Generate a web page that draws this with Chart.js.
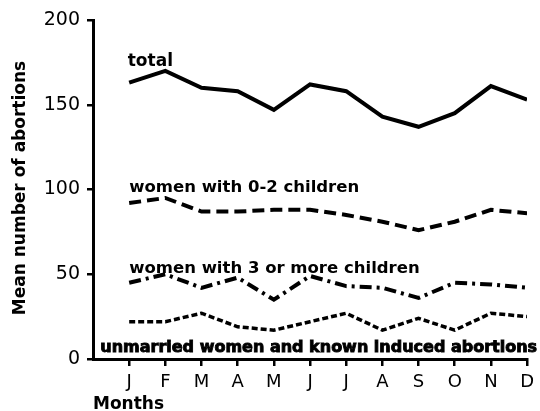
<!DOCTYPE html>
<html><head><meta charset="utf-8">
<script src="https://cdn.jsdelivr.net/npm/chart.js@4/dist/chart.umd.min.js"></script>
<style>html,body{margin:0;padding:0;background:#fff}</style>
</head><body>
<canvas id="c" width="540" height="411" style="width:540px;height:411px;display:block"></canvas>
<script>
const months = ['J','F','M','A','M','J','J','A','S','O','N','D'];
const total = [163,170,160,158,147,162,158,143,137,145,161,153];
const women02 = [92,95,87,87,88,88,85,81,76,81,88,86];
const women3plus = [45,50,42,48,35,49,43,42,36,45,44,42];
const unmarried = [22,22,27,19,17,22,27,17,24,17,27,25];
const yTicks = [0,50,100,150,200];

const FONT = 'DejaVu Sans';
const pts = arr => arr.map((v,i)=>({x:i+1,y:v}));

const labelPlugin = {
  id:'labels',
  afterDraw(chart){
    const {ctx, scales:{x,y}} = chart;
    ctx.save();
    ctx.fillStyle='#000';
    ctx.strokeStyle='#000';
    ctx.textBaseline='alphabetic';
    ctx.textAlign='left';
    ctx.font = `bold 17px "${FONT}"`;
    ctx.fillText('total', x.getPixelForValue(0.96), y.getPixelForValue(173));
    ctx.font = `bold 16.5px "${FONT}"`;
    ctx.fillText('women with 0-2 children', x.getPixelForValue(1.0), y.getPixelForValue(98.5));
    ctx.fillText('women with 3 or more children', x.getPixelForValue(1.0), y.getPixelForValue(51));
    ctx.font = `bold 16px "${FONT}"`;
    const ux = x.getPixelForValue(0.2), uy = y.getPixelForValue(4);
    ctx.lineWidth = 0.9;
    ctx.fillText('unmarried women and known induced abortions', ux, uy);
    ctx.strokeText('unmarried women and known induced abortions', ux, uy);
    ctx.font = `bold 17px "${FONT}"`;
    ctx.fillText('Months', x.left, 409);
    ctx.translate(25, 188);
    ctx.rotate(-Math.PI/2);
    ctx.textAlign='center';
    ctx.fillText('Mean number of abortions', 0, 0);
    ctx.restore();
  }
};

new Chart(document.getElementById('c'), {
  type:'line',
  data:{datasets:[
    {data:pts(total), borderColor:'#000', borderWidth:4, pointRadius:0, tension:0},
    {data:pts(women02), borderColor:'#000', borderWidth:4, borderDash:[12,6], pointRadius:0, tension:0},
    {data:pts(women3plus), borderColor:'#000', borderWidth:4, borderDash:[12,5,3,5], pointRadius:0, tension:0},
    {data:pts(unmarried), borderColor:'#000', borderWidth:3.5, borderDash:[6,3], pointRadius:0, tension:0}
  ]},
  options:{
    responsive:false, animation:false, devicePixelRatio:1,
    layout:{padding:{left:0,top:20,right:8,bottom:0}},
    plugins:{legend:{display:false}, tooltip:{enabled:false}},
    scales:{
      x:{type:'linear', min:0, max:12,
        afterBuildTicks: s => { s.ticks = months.map((m,i)=>({value:i+1})); },
        ticks:{callback:(v)=>months[v-1], font:{family:FONT,size:18}, color:'#000', padding:6, maxRotation:0, autoSkip:false},
        grid:{drawOnChartArea:false, tickLength:7, color:'#000', lineWidth:2.5},
        border:{color:'#000', width:3},
        afterFit: s => { s.height = 52; }
      },
      y:{min:0, max:200,
        afterBuildTicks: s => { s.ticks = yTicks.map(v=>({value:v})); },
        ticks:{font:{family:FONT,size:19}, color:'#000', padding:7},
        grid:{drawOnChartArea:false, tickLength:6, color:'#000', lineWidth:2.5},
        border:{color:'#000', width:3},
        afterFit: s => { s.width = 93; }
      }
    }
  },
  plugins:[labelPlugin]
});
</script>
</body></html>
